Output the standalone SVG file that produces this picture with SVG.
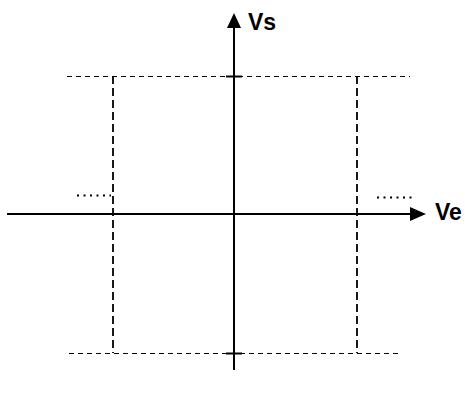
<svg xmlns="http://www.w3.org/2000/svg" width="465" height="398" viewBox="0 0 465 398">
<style>
.axis{stroke:#000;stroke-width:2;fill:none}
.hd{stroke:#000;stroke-width:1.2;stroke-dasharray:5 4;fill:none}
.vd{stroke:#000;stroke-width:1.8;stroke-dasharray:8 4;fill:none}
.dot{stroke:#000;stroke-width:2.2;stroke-dasharray:2 4.5;fill:none}
.lbl{font-family:"Liberation Sans",Arial,sans-serif;font-weight:bold;font-size:23px;fill:#000}
</style>
<g id="guides">
<line class="hd" x1="67" y1="76.5" x2="410" y2="76.5"/>
<line class="hd" x1="69" y1="353.5" x2="402" y2="353.5"/>
<line class="vd" x1="113" y1="76" x2="113" y2="353"/>
<line class="vd" x1="357" y1="76" x2="357" y2="353"/>
<line class="dot" x1="77" y1="195.5" x2="111" y2="195.5"/>
<line class="dot" x1="377" y1="197.5" x2="416" y2="197.5"/>
</g>
<g id="connectors">
<line class="axis" x1="234" y1="26" x2="234" y2="370"/>
<polygon points="234,13 227,28 241,28" fill="#000"/>
<line class="axis" x1="7" y1="214" x2="414" y2="214"/>
<polygon points="426,214 410,207 410,221" fill="#000"/>
<line class="axis" x1="226" y1="76.5" x2="242" y2="76.5"/>
<line class="axis" x1="226" y1="353.5" x2="242" y2="353.5"/>
</g>
<g id="label-vs"><text class="lbl" x="248" y="30">Vs</text></g>
<g id="label-ve"><text class="lbl" x="435" y="220">Ve</text></g>
</svg>
